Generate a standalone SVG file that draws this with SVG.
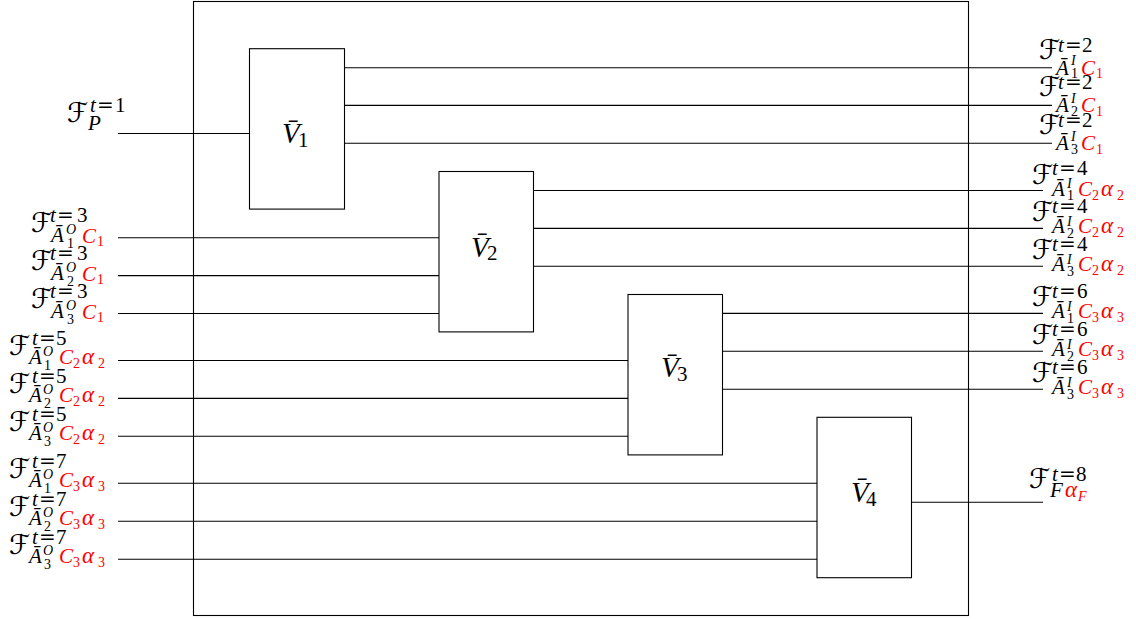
<svg xmlns="http://www.w3.org/2000/svg" width="1136" height="619" viewBox="0 0 1136 619">
<style>
.bx{fill:none;stroke:#000;stroke-width:1.1}
.ln{stroke:#000;stroke-width:1.1;fill:none}
text{font-family:"Liberation Serif","Times New Roman",serif;fill:#000}
.cal{font-family:"DejaVu Serif","DejaVu Sans",serif;font-size:27px}
.V{font-style:italic;font-size:29px}
.s{font-size:21px}
.ss{font-size:14px}
.i{font-style:italic}
.a{font-style:italic;font-size:23px}
.eq{font-family:"DejaVu Serif",serif;font-size:20px}
.r{fill:#ff0000}
</style>
<rect width="1136" height="619" fill="#fff"/>
<g id="frame"><rect class="bx" x="193.5" y="1.5" width="775" height="614"/></g>
<g id="connectors">
<line class="ln" x1="118" y1="133.5" x2="249.5" y2="133.5"/>
<line class="ln" x1="344.5" y1="67.7" x2="1052" y2="67.7"/>
<line class="ln" x1="344.5" y1="105.4" x2="1052" y2="105.4"/>
<line class="ln" x1="344.5" y1="143.3" x2="1052" y2="143.3"/>
<line class="ln" x1="118" y1="237.7" x2="439" y2="237.7"/>
<line class="ln" x1="118" y1="275.6" x2="439" y2="275.6"/>
<line class="ln" x1="118" y1="313.5" x2="439" y2="313.5"/>
<line class="ln" x1="533.5" y1="190.5" x2="1043" y2="190.5"/>
<line class="ln" x1="533.5" y1="228.4" x2="1043" y2="228.4"/>
<line class="ln" x1="533.5" y1="266.3" x2="1043" y2="266.3"/>
<line class="ln" x1="118" y1="360.5" x2="628" y2="360.5"/>
<line class="ln" x1="118" y1="398.4" x2="628" y2="398.4"/>
<line class="ln" x1="118" y1="436.3" x2="628" y2="436.3"/>
<line class="ln" x1="722.5" y1="313.4" x2="1043" y2="313.4"/>
<line class="ln" x1="722.5" y1="351.3" x2="1043" y2="351.3"/>
<line class="ln" x1="722.5" y1="389.2" x2="1043" y2="389.2"/>
<line class="ln" x1="118" y1="483.3" x2="817" y2="483.3"/>
<line class="ln" x1="118" y1="521.3" x2="817" y2="521.3"/>
<line class="ln" x1="118" y1="559.3" x2="817" y2="559.3"/>
<line class="ln" x1="911.5" y1="502.3" x2="1043" y2="502.3"/>
</g>
<g id="V1"><rect class="bx" x="249.5" y="48.7" width="95" height="160.4"/><text><tspan class="V" x="282" y="143">V̄</tspan><tspan class="s" x="298" y="147">1</tspan></text></g>
<g id="V2"><rect class="bx" x="439" y="171.5" width="94.5" height="160.4"/><text><tspan class="V" x="471" y="256.7">V̄</tspan><tspan class="s" x="487" y="260">2</tspan></text></g>
<g id="V3"><rect class="bx" x="628" y="294.5" width="94.5" height="160.4"/><text><tspan class="V" x="661" y="377">V̄</tspan><tspan class="s" x="677" y="380.5">3</tspan></text></g>
<g id="V4"><rect class="bx" x="817" y="417.3" width="94.5" height="160.4"/><text><tspan class="V" x="851" y="501.7">V̄</tspan><tspan class="s" x="866" y="506">4</tspan></text></g>

<g id="in-P"><text><tspan class="cal" x="67" y="122">ℱ</tspan><tspan class="s i" x="90" y="112">t</tspan><tspan class="eq" x="97" y="112">=</tspan><tspan class="s" x="115" y="112">1</tspan><tspan class="s i" x="88" y="130">P</tspan></text></g>

<g id="in-A1-t3"><text><tspan class="cal" x="31" y="232">ℱ</tspan><tspan class="s i" x="50" y="222">t</tspan><tspan class="eq" x="57" y="222">=</tspan><tspan class="s" x="77" y="222">3</tspan><tspan class="s i" x="51" y="242">Ā</tspan><tspan class="ss i" x="66" y="234">O</tspan><tspan class="ss" x="67" y="248">1</tspan><tspan class="s i r" x="82" y="242.5">C</tspan><tspan class="ss r" x="97" y="246">1</tspan></text></g>
<g id="in-A2-t3"><text><tspan class="cal" x="31" y="270">ℱ</tspan><tspan class="s i" x="50" y="260">t</tspan><tspan class="eq" x="57" y="260">=</tspan><tspan class="s" x="77" y="260">3</tspan><tspan class="s i" x="51" y="280">Ā</tspan><tspan class="ss i" x="66" y="272">O</tspan><tspan class="ss" x="67" y="286">2</tspan><tspan class="s i r" x="82" y="280.5">C</tspan><tspan class="ss r" x="97" y="284">1</tspan></text></g>
<g id="in-A3-t3"><text><tspan class="cal" x="31" y="308">ℱ</tspan><tspan class="s i" x="50" y="298">t</tspan><tspan class="eq" x="57" y="298">=</tspan><tspan class="s" x="77" y="298">3</tspan><tspan class="s i" x="51" y="318">Ā</tspan><tspan class="ss i" x="66" y="310">O</tspan><tspan class="ss" x="67" y="324">3</tspan><tspan class="s i r" x="82" y="318.5">C</tspan><tspan class="ss r" x="97" y="322">1</tspan></text></g>

<g id="in-A1-t5"><text><tspan class="cal" x="9" y="355">ℱ</tspan><tspan class="s i" x="32" y="345">t</tspan><tspan class="eq" x="39" y="345">=</tspan><tspan class="s" x="56" y="345">5</tspan><tspan class="s i" x="29" y="364">Ā</tspan><tspan class="ss i" x="43" y="356">O</tspan><tspan class="ss" x="44" y="370">1</tspan><tspan class="s i r" x="59" y="364">C</tspan><tspan class="ss r" x="73" y="368">2</tspan><tspan class="a r" x="82" y="364">α</tspan><tspan class="ss r" x="98" y="368">2</tspan></text></g>
<g id="in-A2-t5"><text><tspan class="cal" x="9" y="393">ℱ</tspan><tspan class="s i" x="32" y="383">t</tspan><tspan class="eq" x="39" y="383">=</tspan><tspan class="s" x="56" y="383">5</tspan><tspan class="s i" x="29" y="402">Ā</tspan><tspan class="ss i" x="43" y="394">O</tspan><tspan class="ss" x="44" y="408">2</tspan><tspan class="s i r" x="59" y="402">C</tspan><tspan class="ss r" x="73" y="406">2</tspan><tspan class="a r" x="82" y="402">α</tspan><tspan class="ss r" x="98" y="406">2</tspan></text></g>
<g id="in-A3-t5"><text><tspan class="cal" x="9" y="431">ℱ</tspan><tspan class="s i" x="32" y="421">t</tspan><tspan class="eq" x="39" y="421">=</tspan><tspan class="s" x="56" y="421">5</tspan><tspan class="s i" x="29" y="440">Ā</tspan><tspan class="ss i" x="43" y="432">O</tspan><tspan class="ss" x="44" y="446">3</tspan><tspan class="s i r" x="59" y="440">C</tspan><tspan class="ss r" x="73" y="444">2</tspan><tspan class="a r" x="82" y="440">α</tspan><tspan class="ss r" x="98" y="444">2</tspan></text></g>

<g id="in-A1-t7"><text><tspan class="cal" x="9" y="478">ℱ</tspan><tspan class="s i" x="32" y="468">t</tspan><tspan class="eq" x="39" y="468">=</tspan><tspan class="s" x="56" y="468">7</tspan><tspan class="s i" x="29" y="487">Ā</tspan><tspan class="ss i" x="43" y="479">O</tspan><tspan class="ss" x="44" y="493">1</tspan><tspan class="s i r" x="59" y="487">C</tspan><tspan class="ss r" x="73" y="491">3</tspan><tspan class="a r" x="82" y="487">α</tspan><tspan class="ss r" x="98" y="491">3</tspan></text></g>
<g id="in-A2-t7"><text><tspan class="cal" x="9" y="516">ℱ</tspan><tspan class="s i" x="32" y="506">t</tspan><tspan class="eq" x="39" y="506">=</tspan><tspan class="s" x="56" y="506">7</tspan><tspan class="s i" x="29" y="525">Ā</tspan><tspan class="ss i" x="43" y="517">O</tspan><tspan class="ss" x="44" y="531">2</tspan><tspan class="s i r" x="59" y="525">C</tspan><tspan class="ss r" x="73" y="529">3</tspan><tspan class="a r" x="82" y="525">α</tspan><tspan class="ss r" x="98" y="529">3</tspan></text></g>
<g id="in-A3-t7"><text><tspan class="cal" x="9" y="554">ℱ</tspan><tspan class="s i" x="32" y="544">t</tspan><tspan class="eq" x="39" y="544">=</tspan><tspan class="s" x="56" y="544">7</tspan><tspan class="s i" x="29" y="563">Ā</tspan><tspan class="ss i" x="43" y="555">O</tspan><tspan class="ss" x="44" y="569">3</tspan><tspan class="s i r" x="59" y="563">C</tspan><tspan class="ss r" x="73" y="567">3</tspan><tspan class="a r" x="82" y="563">α</tspan><tspan class="ss r" x="98" y="567">3</tspan></text></g>

<g id="out-A1-t2"><text><tspan class="cal" x="1039" y="58.5">ℱ</tspan><tspan class="s i" x="1058" y="51.5">t</tspan><tspan class="eq" x="1065" y="51.5">=</tspan><tspan class="s" x="1082" y="51.5">2</tspan><tspan class="s i" x="1056" y="74.5">Ā</tspan><tspan class="ss i" x="1071" y="65">I</tspan><tspan class="ss" x="1071" y="78">1</tspan><tspan class="s i r" x="1081" y="74.5">C</tspan><tspan class="ss r" x="1096" y="78">1</tspan></text></g>
<g id="out-A2-t2"><text><tspan class="cal" x="1039" y="96.2">ℱ</tspan><tspan class="s i" x="1058" y="89.2">t</tspan><tspan class="eq" x="1065" y="89.2">=</tspan><tspan class="s" x="1082" y="89.2">2</tspan><tspan class="s i" x="1056" y="112.2">Ā</tspan><tspan class="ss i" x="1071" y="102.7">I</tspan><tspan class="ss" x="1071" y="115.7">2</tspan><tspan class="s i r" x="1081" y="112.2">C</tspan><tspan class="ss r" x="1096" y="115.7">1</tspan></text></g>
<g id="out-A3-t2"><text><tspan class="cal" x="1039" y="134.1">ℱ</tspan><tspan class="s i" x="1058" y="127.1">t</tspan><tspan class="eq" x="1065" y="127.1">=</tspan><tspan class="s" x="1082" y="127.1">2</tspan><tspan class="s i" x="1056" y="150.1">Ā</tspan><tspan class="ss i" x="1071" y="140.6">I</tspan><tspan class="ss" x="1071" y="153.6">3</tspan><tspan class="s i r" x="1081" y="150.1">C</tspan><tspan class="ss r" x="1096" y="153.6">1</tspan></text></g>

<g id="out-A1-t4"><text><tspan class="cal" x="1032" y="183.5">ℱ</tspan><tspan class="s i" x="1052" y="175">t</tspan><tspan class="eq" x="1059" y="175">=</tspan><tspan class="s" x="1077" y="175">4</tspan><tspan class="s i" x="1052" y="195.5">Ā</tspan><tspan class="ss i" x="1067" y="188">I</tspan><tspan class="ss" x="1067" y="200">1</tspan><tspan class="s i r" x="1078" y="195.5">C</tspan><tspan class="ss r" x="1092" y="199.5">2</tspan><tspan class="a r" x="1101" y="195.5">α</tspan><tspan class="ss r" x="1117" y="199.5">2</tspan></text></g>
<g id="out-A2-t4"><text><tspan class="cal" x="1032" y="221.4">ℱ</tspan><tspan class="s i" x="1052" y="212.9">t</tspan><tspan class="eq" x="1059" y="212.9">=</tspan><tspan class="s" x="1077" y="212.9">4</tspan><tspan class="s i" x="1052" y="233.4">Ā</tspan><tspan class="ss i" x="1067" y="225.9">I</tspan><tspan class="ss" x="1067" y="237.9">2</tspan><tspan class="s i r" x="1078" y="233.4">C</tspan><tspan class="ss r" x="1092" y="237.4">2</tspan><tspan class="a r" x="1101" y="233.4">α</tspan><tspan class="ss r" x="1117" y="237.4">2</tspan></text></g>
<g id="out-A3-t4"><text><tspan class="cal" x="1032" y="259.3">ℱ</tspan><tspan class="s i" x="1052" y="250.8">t</tspan><tspan class="eq" x="1059" y="250.8">=</tspan><tspan class="s" x="1077" y="250.8">4</tspan><tspan class="s i" x="1052" y="271.3">Ā</tspan><tspan class="ss i" x="1067" y="263.8">I</tspan><tspan class="ss" x="1067" y="275.8">3</tspan><tspan class="s i r" x="1078" y="271.3">C</tspan><tspan class="ss r" x="1092" y="275.3">2</tspan><tspan class="a r" x="1101" y="271.3">α</tspan><tspan class="ss r" x="1117" y="275.3">2</tspan></text></g>

<g id="out-A1-t6"><text><tspan class="cal" x="1032" y="306.4">ℱ</tspan><tspan class="s i" x="1052" y="297.9">t</tspan><tspan class="eq" x="1059" y="297.9">=</tspan><tspan class="s" x="1077" y="297.9">6</tspan><tspan class="s i" x="1052" y="318.4">Ā</tspan><tspan class="ss i" x="1067" y="310.9">I</tspan><tspan class="ss" x="1067" y="322.9">1</tspan><tspan class="s i r" x="1078" y="318.4">C</tspan><tspan class="ss r" x="1092" y="322.4">3</tspan><tspan class="a r" x="1101" y="318.4">α</tspan><tspan class="ss r" x="1117" y="322.4">3</tspan></text></g>
<g id="out-A2-t6"><text><tspan class="cal" x="1032" y="344.3">ℱ</tspan><tspan class="s i" x="1052" y="335.8">t</tspan><tspan class="eq" x="1059" y="335.8">=</tspan><tspan class="s" x="1077" y="335.8">6</tspan><tspan class="s i" x="1052" y="356.3">Ā</tspan><tspan class="ss i" x="1067" y="348.8">I</tspan><tspan class="ss" x="1067" y="360.8">2</tspan><tspan class="s i r" x="1078" y="356.3">C</tspan><tspan class="ss r" x="1092" y="360.3">3</tspan><tspan class="a r" x="1101" y="356.3">α</tspan><tspan class="ss r" x="1117" y="360.3">3</tspan></text></g>
<g id="out-A3-t6"><text><tspan class="cal" x="1032" y="382.2">ℱ</tspan><tspan class="s i" x="1052" y="373.7">t</tspan><tspan class="eq" x="1059" y="373.7">=</tspan><tspan class="s" x="1077" y="373.7">6</tspan><tspan class="s i" x="1052" y="394.2">Ā</tspan><tspan class="ss i" x="1067" y="386.7">I</tspan><tspan class="ss" x="1067" y="398.7">3</tspan><tspan class="s i r" x="1078" y="394.2">C</tspan><tspan class="ss r" x="1092" y="398.2">3</tspan><tspan class="a r" x="1101" y="394.2">α</tspan><tspan class="ss r" x="1117" y="398.2">3</tspan></text></g>

<g id="out-F-t8"><text><tspan class="cal" x="1029" y="488">ℱ</tspan><tspan class="s i" x="1052" y="481">t</tspan><tspan class="eq" x="1059" y="481">=</tspan><tspan class="s" x="1076" y="481">8</tspan><tspan class="s i" x="1050" y="497">F</tspan><tspan class="a r" x="1065" y="497">α</tspan><tspan class="ss i r" x="1078" y="501">F</tspan></text></g>
</svg>
